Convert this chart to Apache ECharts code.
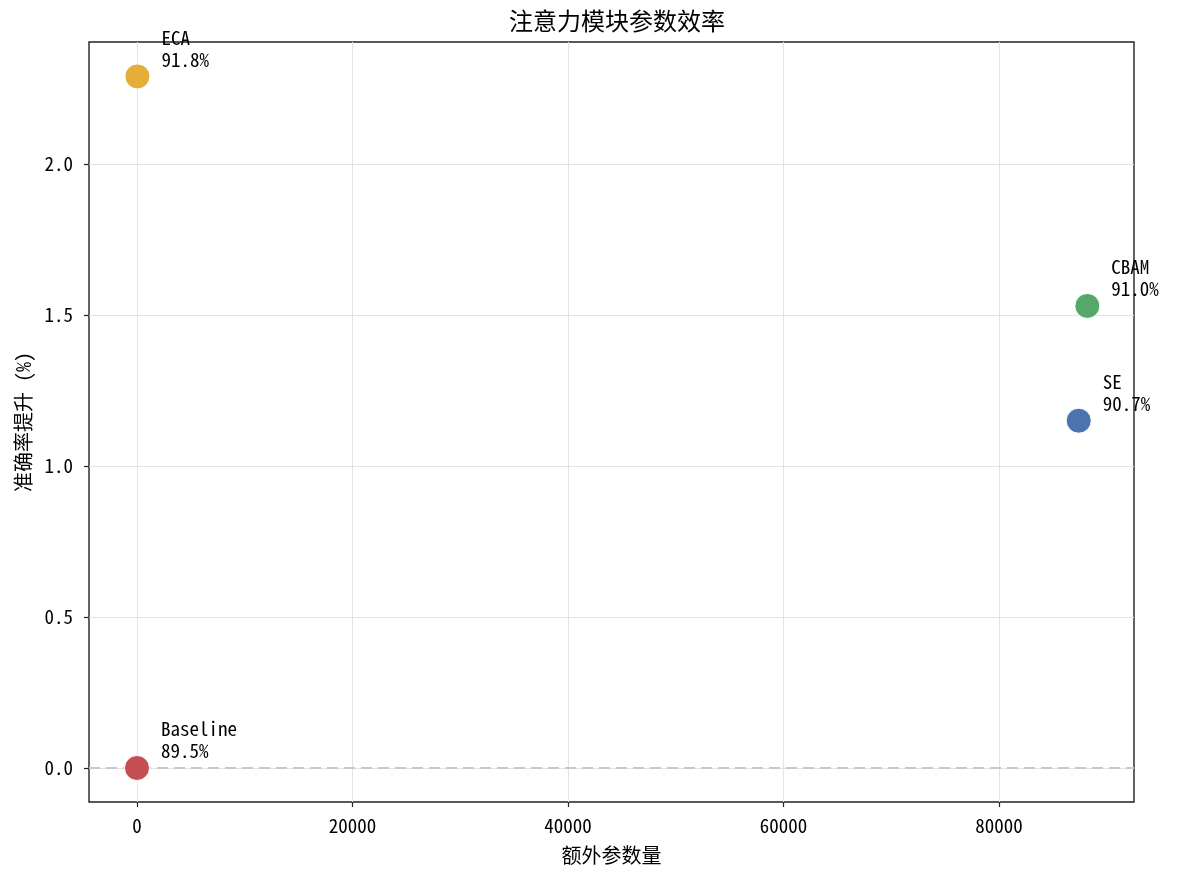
<!DOCTYPE html>
<html>
<head>
<meta charset="utf-8">
<title>注意力模块参数效率</title>
<script src="https://cdn.jsdelivr.net/npm/echarts@6.0.0/dist/echarts.min.js"></script>
<style>
  html, body { margin: 0; padding: 0; background: #fff; }
  #main { width: 1178px; height: 874px; }
</style>
</head>
<body>
<div id="main"></div>
<script>
// data
var methods = ['Baseline', 'SE', 'CBAM', 'ECA'];
var extraParams = [0, 87400, 88200, 40];
var accGain = [0.0, 1.15, 1.53, 2.29];
var accuracy = ['89.5%', '90.7%', '91.0%', '91.8%'];
var colors = ['#c44e52', '#4c72b0', '#55a868', '#e5ae38'];
var xTicks = [0, 20000, 40000, 60000, 80000];
var yTicks = [0, 0.5, 1.0, 1.5, 2.0];

var font = '"Noto Sans Mono CJK SC", "Noto Sans CJK SC", "DejaVu Sans Mono", monospace';

var points = methods.map(function (m, i) {
    return {
        name: m,
        value: [extraParams[i], accGain[i]],
        itemStyle: { color: colors[i] },
        label: { formatter: m + '\n' + accuracy[i] }
    };
});

var chart = echarts.init(document.getElementById('main'));
chart.setOption({
    animation: false,
    title: {
        text: '注意力模块参数效率',
        left: 612, top: 4, textAlign: 'center',
        textStyle: { fontFamily: font, fontSize: 24, fontWeight: 'normal', color: '#000' }
    },
    grid: {
        left: 89, right: 44, top: 42, bottom: 72,
        show: true, borderColor: '#222', borderWidth: 1.4, backgroundColor: 'transparent'
    },
    xAxis: {
        type: 'value', min: -4455, max: 92530,
        name: '额外参数量', nameLocation: 'middle', nameGap: 43,
        nameTextStyle: { fontFamily: font, fontSize: 20, color: '#000' },
        axisLine: { show: false, onZero: false },
        axisTick: { show: true, length: 5, lineStyle: { color: '#222', width: 1.2 }, customValues: xTicks },
        axisLabel: {
            fontFamily: font, fontSize: 19, color: '#000', margin: 14, customValues: xTicks,
            formatter: function (v) { return String(v); }
        },
        splitLine: { show: true, lineStyle: { color: '#e3e3e3', width: 1 } }
    },
    yAxis: {
        type: 'value', min: -0.1126, max: 2.404,
        name: '准确率提升 (%)', nameLocation: 'middle', nameGap: 53, nameRotate: 90,
        nameTextStyle: { fontFamily: font, fontSize: 20, color: '#000' },
        axisLine: { show: false, onZero: false },
        axisTick: { show: true, length: 5, lineStyle: { color: '#222', width: 1.2 }, customValues: yTicks },
        axisLabel: {
            fontFamily: font, fontSize: 19, color: '#000', margin: 16, customValues: yTicks,
            formatter: function (v) { return v.toFixed(1); }
        },
        splitLine: { show: true, lineStyle: { color: '#e3e3e3', width: 1 } }
    },
    series: [{
        type: 'scatter',
        symbolSize: 25,
        data: points,
        itemStyle: { borderColor: '#fff', borderWidth: 1, opacity: 1 },
        label: {
            show: true,
            position: [37, -37],
            align: 'left', verticalAlign: 'top',
            fontFamily: font, fontSize: 19, lineHeight: 22, color: '#000'
        },
        markLine: {
            silent: true, symbol: 'none', label: { show: false },
            lineStyle: { type: [11, 6], color: '#c8c8c8', width: 2 },
            data: [{ yAxis: 0 }]
        },
        z: 5
    }]
});
</script>
</body>
</html>
